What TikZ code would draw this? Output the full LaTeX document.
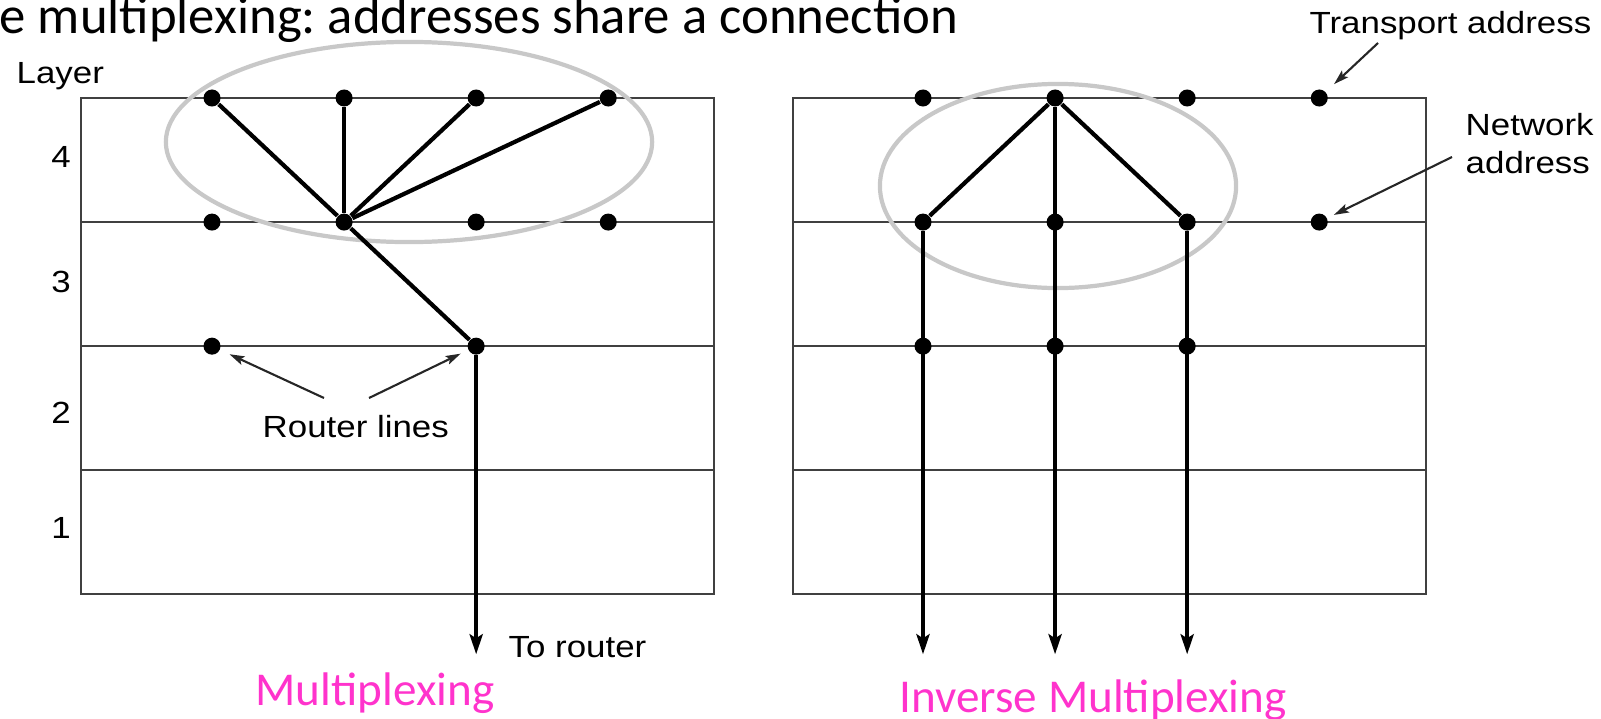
\documentclass[tikz,border=0pt]{standalone}
\usepackage{fontspec}
\newfontfamily\lblfont[FakeStretch=1.14]{Liberation Sans}
\newfontfamily\ttlfont{Carlito}
\usepackage{xcolor}
\usepackage{tikz}
\usetikzlibrary{arrows.meta,shapes}

\begin{document}
\begin{tikzpicture}[x=0.01cm,y=-0.01cm]
    \definecolor{mygray}{RGB}{200,200,200}
    \definecolor{myline}{RGB}{64,64,64}
    \definecolor{mymagenta}{RGB}{255,51,204}

    \tikzstyle{layer}=[draw=myline,line width=0.7pt]  % 层的方框和分隔线
    \tikzstyle{group}=[draw=mygray,line width=1.2pt]  % 灰色椭圆
    \tikzstyle{dot}=[circle,fill,inner sep=0pt,minimum size=0.17cm]  % 地址点
    \tikzstyle{point}=[coordinate]  % 连线的端点
    \tikzstyle{conn}=[line width=1.2pt]  % 粗连线
    \tikzstyle{down}=[conn,-{Stealth[length=0.2cm,width=0.13cm,inset=0.04cm]}]
    \tikzstyle{hint}=[line width=0.6pt,draw=black!85,-{Stealth[length=0.15cm,width=0.09cm,inset=0.03cm]}]
    \tikzstyle{lbl}=[inner sep=0pt,font=\lblfont\fontsize{8.7pt}{10.8pt}\selectfont]
    \tikzstyle{caption}=[inner sep=0pt,text=mymagenta,font=\ttlfont\fontsize{13.4pt}{16pt}\selectfont]

    \useasboundingbox (0,0) rectangle (1601,718);

    % 标题和层号
    \node[anchor=base west,inner sep=0pt,font=\ttlfont\fontsize{15pt}{18pt}\selectfont\frenchspacing](title) at (-1,33){e multiplexing: addresses share a connection};
    \node[lbl,anchor=base west](layer) at (16,83){Layer};
    \node[lbl](l4) at (61,157){4};
    \node[lbl](l3) at (61,282){3};
    \node[lbl](l2) at (61,413){2};
    \node[lbl](l1) at (61,528){1};

    % 两个方框
    \draw[layer] (81,98) rectangle (714,594);
    \draw[layer] (81,222) -- (714,222);
    \draw[layer] (81,346) -- (714,346);
    \draw[layer] (81,470) -- (714,470);
    \draw[layer] (793,98) rectangle (1426,594);
    \draw[layer] (793,222) -- (1426,222);
    \draw[layer] (793,346) -- (1426,346);
    \draw[layer] (793,470) -- (1426,470);

    % 椭圆
    \draw[group] (409,142) ellipse [x radius=2.43cm,y radius=1.0cm];
    \draw[group] (1058,186) ellipse [x radius=1.78cm,y radius=1.02cm];

    % 左边: Multiplexing
    \node[dot](lt1) at (212,98){};
    \node[dot,right of=lt1,node distance=1.32cm](lt2){};
    \node[dot,right of=lt2,node distance=1.32cm](lt3){};
    \node[dot,right of=lt3,node distance=1.32cm](lt4){};
    \node[dot,below of=lt1,node distance=1.24cm](ln1){};
    \node[dot,below of=lt2,node distance=1.24cm](ln2){};
    \node[dot,below of=lt3,node distance=1.24cm](ln3){};
    \node[dot,below of=lt4,node distance=1.24cm](ln4){};
    \node[dot,below of=ln1,node distance=1.24cm](lr1){};
    \node[dot,below of=ln3,node distance=1.24cm](lr3){};
    \node[point,below of=lr3,node distance=3.08cm](lend){};

    % 右边: Inverse Multiplexing
    \node[dot](rt1) at (923,98){};
    \node[dot,right of=rt1,node distance=1.32cm](rt2){};
    \node[dot,right of=rt2,node distance=1.32cm](rt3){};
    \node[dot,right of=rt3,node distance=1.32cm](rt4){};
    \node[dot,below of=rt1,node distance=1.24cm](rn1){};
    \node[dot,below of=rt2,node distance=1.24cm](rn2){};
    \node[dot,below of=rt3,node distance=1.24cm](rn3){};
    \node[dot,below of=rt4,node distance=1.24cm](rn4){};
    \node[dot,below of=rn1,node distance=1.24cm](rr1){};
    \node[dot,below of=rn2,node distance=1.24cm](rr2){};
    \node[dot,below of=rn3,node distance=1.24cm](rr3){};
    \node[point,below of=rr1,node distance=3.08cm](rend1){};
    \node[point,below of=rr2,node distance=3.08cm](rend2){};
    \node[point,below of=rr3,node distance=3.08cm](rend3){};

    % 文字
    \node[lbl,anchor=base west](rlines) at (262,437){Router lines};
    \node[lbl,anchor=base west](torouter) at (508,657){To router};
    \node[lbl,anchor=base east](taddr) at (1592,33){Transport address};
    \node[lbl,anchor=base west,align=left](naddr) at (1465,173){Network\\address};
    \node[caption,anchor=base west](mux) at (255,705){Multiplexing};
    \node[caption,anchor=base west](imux) at (899,712){Inverse Multiplexing};
    \node[point](rla) at (324,398){};
    \node[point](rlb) at (369,398){};
    \node[point](ta) at (1378,43){};
    \node[point](na) at (1452,157){};

    % 开始画线
    \draw[conn](lt1)--(ln2);
    \draw[conn](lt2)--(ln2);
    \draw[conn](lt3)--(ln2);
    \draw[conn](lt4)--(ln2);
    \draw[conn](ln2)--(lr3);
    \draw[down](lr3)--(lend);
    \draw[conn](rt2)--(rn1);
    \draw[conn](rt2)--(rn3);
    \draw[down](rt2)--(rend2);
    \draw[down](rn1)--(rend1);
    \draw[down](rn3)--(rend3);
    \draw[hint,shorten >=0.1cm](rla)--(lr1);
    \draw[hint,shorten >=0.08cm](rlb)--(lr3);
    \draw[hint,shorten >=0.11cm](ta)--(rt4);
    \draw[hint,shorten >=0.07cm](na)--(rn4);
\end{tikzpicture}
\end{document}
